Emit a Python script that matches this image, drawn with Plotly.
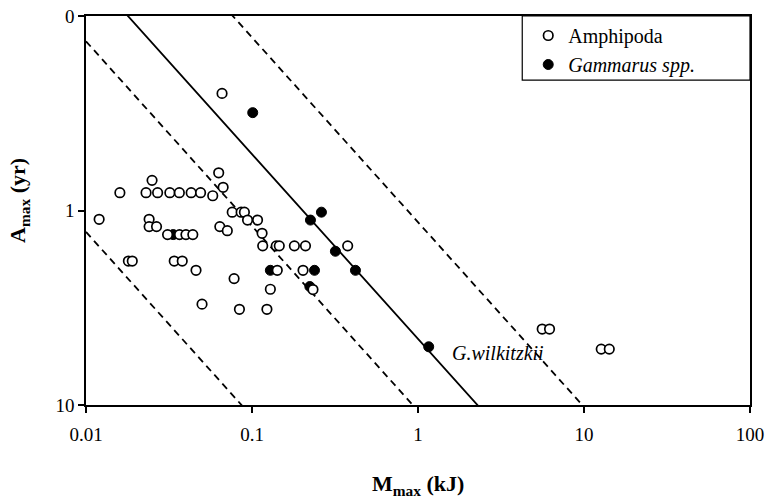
import numpy as np
import plotly.graph_objects as go

# ---- data ----
amph_M = [0.066, 0.012, 0.016, 0.025,
          0.023, 0.027, 0.032, 0.0365, 0.043, 0.049, 0.058,
          0.063, 0.067, 0.024, 0.024, 0.0266,
          0.031, 0.0366, 0.040, 0.044, 0.064, 0.071,
          0.018, 0.019, 0.034, 0.038, 0.046, 0.050,
          0.078, 0.084, 0.123, 0.129,
          0.076, 0.086, 0.090, 0.094, 0.108, 0.115,
          0.116, 0.140, 0.146, 0.180, 0.210,
          0.142, 0.203, 0.233, 0.377,
          5.6, 6.2, 12.7, 14.2]
amph_A = [0.25, 1.11, 0.81, 0.70,
          0.81, 0.81, 0.81, 0.81, 0.81, 0.81, 0.84,
          0.64, 0.76, 1.11, 1.21, 1.21,
          1.33, 1.33, 1.33, 1.33, 1.21, 1.27,
          1.82, 1.82, 1.82, 1.82, 2.03, 3.03,
          2.24, 3.22, 3.22, 2.54,
          1.02, 1.02, 1.02, 1.12, 1.12, 1.31,
          1.52, 1.52, 1.52, 1.52, 1.52,
          2.03, 2.03, 2.55, 1.52,
          4.07, 4.07, 5.16, 5.16]

gam_M = [0.101, 0.225, 0.262, 0.318, 0.420, 0.238, 0.129, 0.223, 0.0335, 1.16]
gam_A = [0.314, 1.12, 1.02, 1.62, 2.03, 2.03, 2.03, 2.46, 1.33, 5.02]

# regression line and bounds: log10(A) = a + b*log10(M)
line_slope = 0.95
solid_intercept = 0.66
dashed_intercepts = [0.06, 1.03, 2.01]

x_ticks = [0.01, 0.1, 1, 10, 100]
x_ticktext = ["0.01", "0.1", "1", "10", "100"]
y_ticks = [0.1, 1, 10]
y_ticktext = ["0", "1", "10"]

FONT = "Liberation Serif"

fig = go.Figure()

mline = np.logspace(-2, 2, 200)
for a in dashed_intercepts:
    fig.add_trace(go.Scatter(x=mline, y=10 ** (a + line_slope * np.log10(mline)),
                             mode="lines", line=dict(color="black", width=1.8, dash="7px,5px"),
                             showlegend=False, hoverinfo="skip"))
fig.add_trace(go.Scatter(x=mline, y=10 ** (solid_intercept + line_slope * np.log10(mline)),
                         mode="lines", line=dict(color="black", width=1.8),
                         showlegend=False, hoverinfo="skip"))

fig.add_trace(go.Scatter(x=gam_M, y=gam_A, mode="markers", name="<i>Gammarus spp.</i>",
                         marker=dict(symbol="circle", size=10, color="black",
                                     line=dict(color="black", width=1))))
fig.add_trace(go.Scatter(x=amph_M, y=amph_A, mode="markers", name="Amphipoda",
                         marker=dict(symbol="circle", size=9.5, color="white",
                                     line=dict(color="black", width=1.7))))

fig.update_layout(
    width=766, height=503,
    margin=dict(l=86, r=16, t=16, b=98, autoexpand=False),
    paper_bgcolor="white", plot_bgcolor="white",
    font=dict(family=FONT, color="black", size=19),
    showlegend=True,
    legend=dict(x=0.666, y=1, xanchor="left", yanchor="top",
                bgcolor="rgba(0,0,0,0)", borderwidth=0,
                font=dict(family=FONT, size=20), traceorder="reversed",
                tracegroupgap=0),
)

fig.update_xaxes(type="log", range=[-2, 2], tickvals=x_ticks, ticktext=x_ticktext,
                 automargin=False, ticklabelstandoff=5,
                 showgrid=False, zeroline=False, showline=True, linecolor="black",
                 linewidth=1.5, mirror=True, ticks="outside", ticklen=6, tickwidth=1.5,
                 tickcolor="black", tickfont=dict(family=FONT, size=19))
fig.update_yaxes(type="log", range=[1, -1], tickvals=y_ticks, ticktext=y_ticktext,
                 automargin=False,
                 showgrid=False, zeroline=False, showline=True, linecolor="black",
                 linewidth=1.5, mirror=True, ticks="outside", ticklen=6, tickwidth=1.5,
                 tickcolor="black", tickfont=dict(family=FONT, size=19))

# legend frame
fig.add_shape(type="rect", xref="paper", yref="paper", x0=0.657, x1=1.0, y0=0.835, y1=1.0,
              line=dict(color="black", width=1.2), fillcolor="rgba(0,0,0,0)", layer="above")

fig.add_annotation(x=0.19, y=0.733, xref="x", yref="y", text="<i>G.wilkitzkii</i>",
                   showarrow=False, xanchor="left", yanchor="middle",
                   font=dict(family=FONT, size=20))
fig.add_annotation(x=0.5, y=-0.205, xref="paper", yref="paper",
                   text="<b>M<sub>max</sub> (kJ)</b>", showarrow=False,
                   xanchor="center", yanchor="middle", font=dict(family=FONT, size=22))
fig.add_annotation(x=-0.101, y=0.527, xref="paper", yref="paper",
                   text="<b>A<sub>max</sub> (yr)</b>", showarrow=False, textangle=-90,
                   xanchor="center", yanchor="middle", font=dict(family=FONT, size=22))

fig.write_html("out.html", config={"displayModeBar": False},
               post_script="document.body.style.margin='0';document.body.style.padding='0';")
